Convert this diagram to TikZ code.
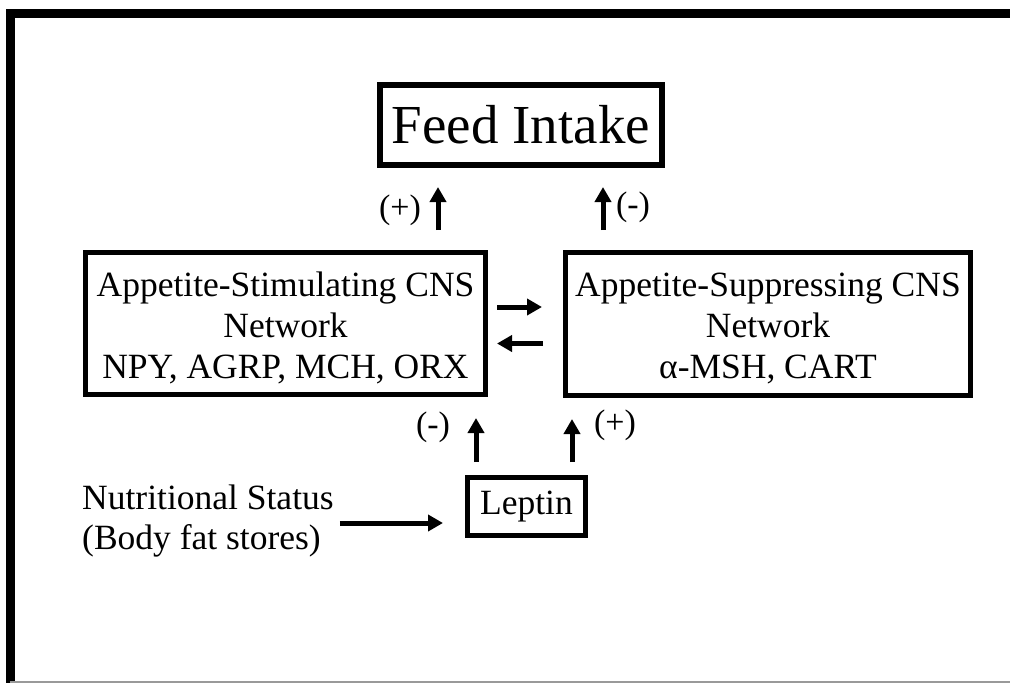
\documentclass[tikz,border=0pt]{standalone}
\usepackage{fontspec}
\setmainfont{Liberation Serif}
\usetikzlibrary{arrows.meta}
\newcommand{\topstrut}{\rule{0pt}{33pt}}
\begin{document}
\begin{tikzpicture}[x=1pt,y=-1pt,
  box/.style={draw=black, line width=5pt, inner sep=0pt, align=center, font=\fontsize{35.5}{41}\selectfont},
  arr/.style={line width=5pt, -{Triangle[length=15pt,width=16pt]}},
  lab/.style={font=\fontsize{34}{40}\selectfont, inner sep=0pt},
  txt/.style={font=\fontsize{35.5}{40}\selectfont, align=left, inner sep=0pt}]
\useasboundingbox (0,0) rectangle (1010,683);
% frame
\draw[line width=9pt] (10,683) -- (10,13) -- (1010,13);
\draw[black!40, line width=1.5pt] (10,682) -- (1010,682);
% boxes
\node[box, line width=6pt, minimum width=282pt, minimum height=80pt, font=\fontsize{55}{60}\selectfont] (F) at (521,125) {Feed Intake};
\node[box, minimum width=400pt, minimum height=142pt] (L) at (285.5,323.5) {\topstrut Appetite-Stimulating CNS\\Network\\NPY, AGRP, MCH, ORX};
\node[box, minimum width=405pt, minimum height=143pt] (R) at (768,324) {\topstrut Appetite-Suppressing CNS\\Network\\α-MSH, CART};
\node[box, minimum width=118pt, minimum height=58pt] (P) at (526.5,506.5) {Leptin};
\node[txt, anchor=west] (N) at (82,521) {Nutritional Status\\(Body fat stores)};
% helper coordinates
\coordinate (c1) at (438,0);
\coordinate (c2) at (603,0);
\coordinate (c3) at (476,0);
\coordinate (c4) at (572,0);
\coordinate (c5) at (0,523);
% connectors
\draw[arr, shorten <=20pt, shorten >=19pt] (L.north -| c1) -- (F.south -| c1);
\draw[arr, shorten <=20pt, shorten >=19pt] (R.north -| c2) -- (F.south -| c2);
\draw[arr, shorten <=9pt, shorten >=21pt] ([yshift=16.5pt]L.east) -- ([yshift=16.5pt]L.east -| R.west);
\draw[arr, shorten <=20pt, shorten >=9pt] ([yshift=-19.5pt]R.west) -- ([yshift=-19.5pt]R.west -| L.east);
\draw[arr, shorten <=13pt, shorten >=21pt] (P.north -| c3) -- (L.south -| c3);
\draw[arr, shorten <=13pt, shorten >=21pt] (P.north -| c4) -- (R.south -| c4);
\draw[arr, shorten <=6pt, shorten >=22pt] (N.east |- c5) -- (P.west |- c5);
% labels
\node[lab] (l1) at (400,210) {(+)};
\node[lab] (l2) at (633,207) {(-)};
\node[lab] (l3) at (433,427) {(-)};
\node[lab] (l4) at (615,425) {(+)};
\end{tikzpicture}
\end{document}
